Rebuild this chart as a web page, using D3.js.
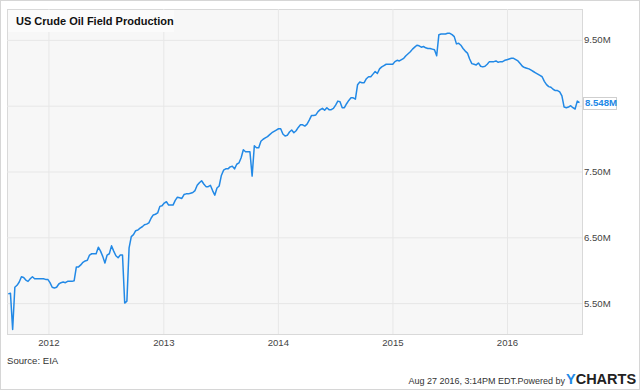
<!DOCTYPE html>
<html>
<head>
<meta charset="utf-8">
<script src="https://cdn.jsdelivr.net/npm/d3@7"></script>
<style>
  body { margin: 0; background: #fff; }
  svg text { font-family: "Liberation Sans", Arial, sans-serif; }
</style>
</head>
<body>
<script>
// weekly US crude oil field production, million barrels per day
// first value is the week ending 2011-08-26, one value per week after that
var firstWeek = "2011-08-26";
var production = [
  5.64, 5.65, 5.10, 5.74, 5.77, 5.82, 5.90, 5.89, 5.85, 5.83,
  5.87, 5.90, 5.87, 5.87, 5.87, 5.87, 5.87, 5.86, 5.86, 5.81,
  5.74, 5.73, 5.74, 5.79, 5.81, 5.82, 5.81, 5.83, 5.83, 5.83,
  5.84, 6.05, 6.05, 6.08, 6.12, 6.14, 6.15, 6.23, 6.25, 6.25,
  6.25, 6.35, 6.29, 6.21, 6.11, 6.23, 6.25, 6.37, 6.29, 6.22,
  6.19, 6.23, 6.23, 5.50, 5.53, 6.34, 6.51, 6.54, 6.60, 6.61,
  6.64, 6.66, 6.69, 6.70, 6.72, 6.79, 6.84, 6.85, 6.87, 6.97,
  6.98, 7.02, 7.04, 6.99, 6.99, 6.99, 7.06, 7.11, 7.10, 7.09,
  7.15, 7.16, 7.16, 7.17, 7.18, 7.21, 7.29, 7.33, 7.36, 7.31,
  7.27, 7.27, 7.29, 7.21, 7.14, 7.25, 7.28, 7.44, 7.52, 7.54,
  7.54, 7.57, 7.58, 7.54, 7.61, 7.63, 7.71, 7.83, 7.80, 7.80,
  7.80, 7.43, 7.89, 7.86, 7.86, 7.96, 7.99, 8.01, 8.03, 8.06,
  8.09, 8.11, 8.13, 8.15, 8.15, 8.07, 8.04, 8.05, 8.10, 8.13,
  8.09, 8.12, 8.17, 8.21, 8.21, 8.19, 8.22, 8.28, 8.35, 8.35,
  8.36, 8.41, 8.44, 8.46, 8.43, 8.47, 8.44, 8.44, 8.46, 8.51,
  8.57, 8.56, 8.47, 8.47, 8.53, 8.58, 8.62, 8.62, 8.60, 8.82,
  8.86, 8.85, 8.85, 8.91, 8.94, 8.94, 8.98, 9.02, 8.99, 9.06,
  9.09, 9.11, 9.13, 9.13, 9.13, 9.13, 9.17, 9.19, 9.18, 9.20,
  9.22, 9.26, 9.29, 9.32, 9.36, 9.39, 9.42, 9.41, 9.39, 9.40,
  9.38, 9.37, 9.37, 9.36, 9.35, 9.26, 9.58, 9.59, 9.59, 9.59,
  9.60, 9.60, 9.58, 9.55, 9.44, 9.45, 9.42, 9.37, 9.33, 9.30,
  9.21, 9.14, 9.13, 9.12, 9.15, 9.10, 9.09, 9.10, 9.13, 9.17,
  9.17, 9.17, 9.18, 9.16, 9.17, 9.17, 9.19, 9.20, 9.21, 9.22,
  9.22, 9.20, 9.18, 9.14, 9.10, 9.08, 9.07, 9.06, 9.04, 9.02,
  9.00, 8.98, 8.96, 8.94, 8.87, 8.82, 8.79, 8.78, 8.75, 8.73,
  8.73, 8.71, 8.65, 8.48, 8.47, 8.48, 8.50, 8.47, 8.45, 8.57,
  8.548
];
var lastLabel = "8.548M";
var yTicks = [5.5, 6.5, 7.5, 8.5, 9.5];
// the 8.5 gridline has no label: the last value tag sits there
var yTickLabels = ["5.50M", "6.50M", "7.50M", "", "9.50M"];
var xTicks = ["2012-01-01", "2013-01-01", "2014-01-01", "2015-01-01", "2016-01-01"];
var xTickLabels = ["2012", "2013", "2014", "2015", "2016"];

drawChart();

function drawChart(){

    var width = 640,
        height = 390;

    // plot frame edges
    var plotLeft = 7, plotRight = 582, plotTop = 9, plotBottom = 334;

    var parse = d3.timeParse("%Y-%m-%d");
    var start = parse(firstWeek);
    var data = production.map(function(v, i){
        return {date: d3.timeDay.offset(start, 7 * i), value: v};
    });

    var x = d3.scaleTime()
        .domain([parse("2011-08-22"), parse("2016-08-27")])
        .range([plotLeft, plotRight]);

    var y = d3.scaleLinear()
        .domain([5.03, 9.97])
        .range([plotBottom, plotTop]);

    var svg = d3.select("body")
        .append("svg")
        .attr("width", width)
        .attr("height", height);

    // outer frame
    svg.append("rect")
        .attr("x", 0.5).attr("y", 0.5)
        .attr("width", width - 1).attr("height", height - 1)
        .attr("fill", "#fff")
        .attr("stroke", "#d6d6d6");

    // plot background
    svg.append("rect")
        .attr("x", plotLeft + 0.5).attr("y", plotTop + 0.5)
        .attr("width", plotRight - plotLeft).attr("height", plotBottom - plotTop)
        .attr("fill", "#f7f7f7")
        .attr("stroke", "#d9d9d9");

    // horizontal grid + right labels
    var yAxis = svg.append("g")
        .attr("transform", "translate(" + plotRight + ",0)")
        .call(d3.axisRight(y)
            .tickValues(yTicks)
            .tickSize(-(plotRight - plotLeft))
            .tickPadding(2)
            .tickFormat(function(d, i){ return yTickLabels[i]; }));

    yAxis.select(".domain").remove();
    yAxis.selectAll("line").attr("stroke", "#e7e7e7");
    yAxis.selectAll("text")
        .attr("fill", "#444")
        .style("font-size", "9.6px");

    // vertical grid + year labels
    var xAxis = svg.append("g")
        .attr("transform", "translate(0," + plotBottom + ")")
        .call(d3.axisBottom(x)
            .tickValues(xTicks.map(parse))
            .tickSize(-(plotBottom - plotTop))
            .tickPadding(5)
            .tickFormat(function(d, i){ return xTickLabels[i]; }));

    xAxis.select(".domain").remove();
    xAxis.selectAll("line").attr("stroke", "#e7e7e7");
    xAxis.selectAll("text")
        .attr("fill", "#444")
        .style("font-size", "9.6px");

    // title box
    svg.append("rect")
        .attr("x", plotLeft + 1).attr("y", plotTop + 1)
        .attr("width", 166).attr("height", 22)
        .attr("fill", "#fbfbfb");

    svg.append("text")
        .attr("x", 16)
        .attr("y", 25)
        .attr("fill", "#111")
        .style("font-size", "11px")
        .style("font-weight", "bold")
        .text("US Crude Oil Field Production");

    // production line
    var line = d3.line()
        .x(function(d){ return x(d.date); })
        .y(function(d){ return y(d.value); });

    svg.append("path")
        .datum(data)
        .attr("fill", "none")
        .attr("stroke", "#2289e6")
        .attr("stroke-width", 1.5)
        .attr("stroke-linejoin", "round")
        .attr("d", line);

    // last value tag
    var lastY = y(production[production.length - 1]);
    svg.append("rect")
        .attr("x", plotRight + 1.5).attr("y", Math.round(lastY) - 5.5)
        .attr("width", 33).attr("height", 12)
        .attr("fill", "#fff")
        .attr("stroke", "#cfcfcf");

    svg.append("text")
        .attr("x", plotRight + 3)
        .attr("y", lastY)
        .attr("dy", "0.36em")
        .attr("fill", "#2289e6")
        .style("font-size", "9.6px")
        .style("font-weight", "bold")
        .text(lastLabel);

    // footer
    svg.append("text")
        .attr("x", 7)
        .attr("y", 364)
        .attr("fill", "#333")
        .style("font-size", "9.6px")
        .text("Source: EIA");

    svg.append("text")
        .attr("x", 565)
        .attr("y", 384)
        .attr("text-anchor", "end")
        .attr("fill", "#333")
        .style("font-size", "9px")
        .text("Aug 27 2016, 3:14PM EDT.Powered by");

    var logo = svg.append("text")
        .attr("x", 566)
        .attr("y", 384)
        .style("font-size", "14.5px")
        .style("font-weight", "bold");

    logo.append("tspan").attr("fill", "#2289e6").text("Y");
    logo.append("tspan").attr("fill", "#222").text("CHARTS");
}
</script>
</body>
</html>
